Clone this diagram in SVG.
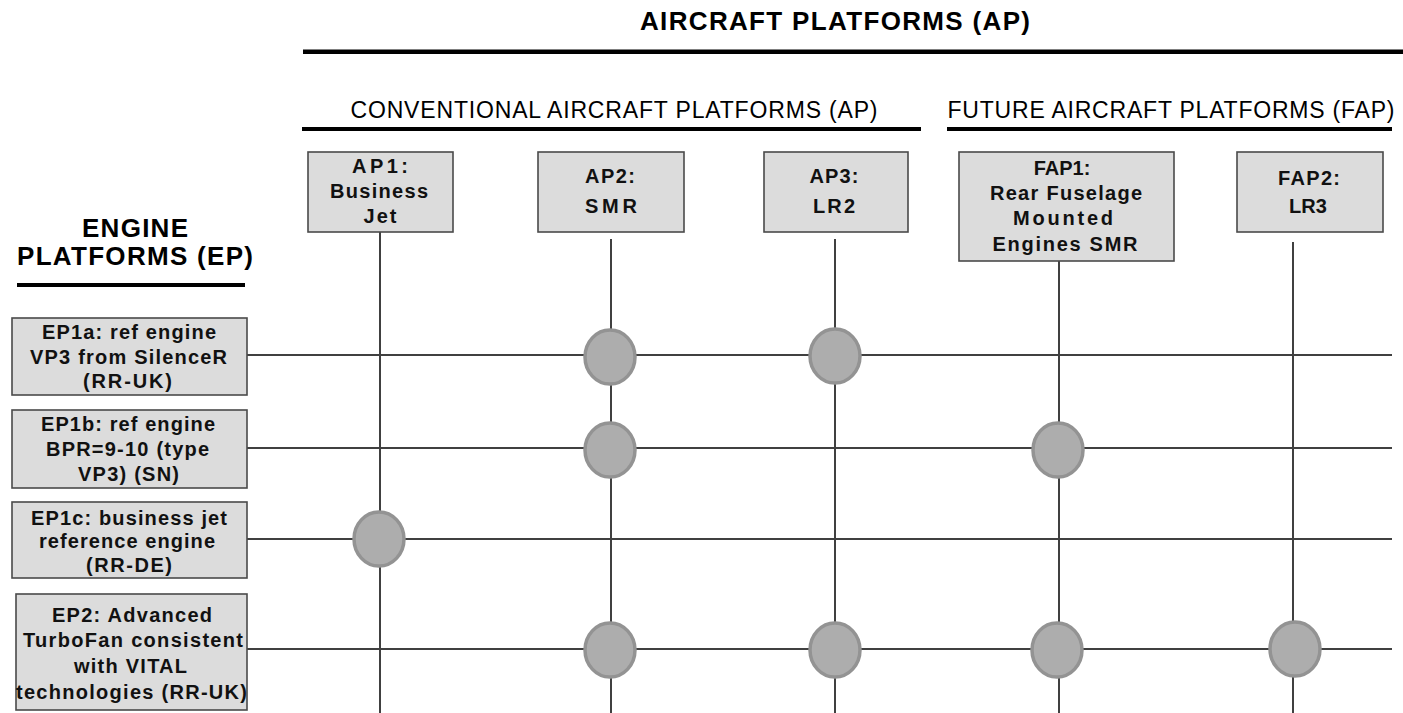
<svg xmlns="http://www.w3.org/2000/svg" width="1403" height="713" viewBox="0 0 1403 713">
<style>
.bg{fill:#ffffff}
.box{fill:#dcdcdc;stroke:#4a4a4a;stroke-width:1.6}
.bt{font-family:"Liberation Sans",Arial,sans-serif;font-weight:bold;font-size:20px;fill:#111;text-anchor:middle}
.et{font-family:"Liberation Sans",Arial,sans-serif;font-weight:bold;font-size:20px;fill:#111;text-anchor:middle}
.h1{font-family:"Liberation Sans",Arial,sans-serif;font-weight:bold;font-size:26px;fill:#000;text-anchor:middle}
.h2{font-family:"Liberation Sans",Arial,sans-serif;font-size:23px;fill:#000;text-anchor:middle}
.bar{fill:#000}
.ln{stroke:#404040;stroke-width:2;fill:none}
.dot{fill:#adadad;stroke:#939393;stroke-width:3.5}
</style>
<rect class="bg" x="0" y="0" width="1403" height="713"/>

<g id="headers">
  <text class="h1" x="835" y="30" textLength="390" lengthAdjust="spacing">AIRCRAFT PLATFORMS (AP)</text>
  <rect class="bar" x="303" y="49.5" width="1100" height="4.5"/>
  <text class="h2" x="614" y="118" textLength="527" lengthAdjust="spacing">CONVENTIONAL AIRCRAFT PLATFORMS (AP)</text>
  <rect class="bar" x="302" y="127" width="619" height="4"/>
  <text class="h2" x="1171" y="118" textLength="447" lengthAdjust="spacing">FUTURE AIRCRAFT PLATFORMS (FAP)</text>
  <rect class="bar" x="947" y="127" width="445" height="4"/>
  <text class="h1" x="135" y="237" font-size="27" textLength="106" lengthAdjust="spacing">ENGINE</text>
  <text class="h1" x="135" y="265" font-size="27" textLength="236" lengthAdjust="spacing">PLATFORMS (EP)</text>
  <rect class="bar" x="17" y="283" width="228" height="4"/>
</g>

<g id="connectors">
  <line class="ln" x1="380" y1="232" x2="380" y2="713"/>
  <line class="ln" x1="611" y1="239" x2="611" y2="713"/>
  <line class="ln" x1="835" y1="239" x2="835" y2="713"/>
  <line class="ln" x1="1059" y1="260" x2="1059" y2="713"/>
  <line class="ln" x1="1293" y1="242" x2="1293" y2="713"/>
  <line class="ln" x1="247" y1="355" x2="1392" y2="355"/>
  <line class="ln" x1="247" y1="448" x2="1392" y2="448"/>
  <line class="ln" x1="247" y1="539" x2="1392" y2="539"/>
  <line class="ln" x1="247" y1="649" x2="1392" y2="649"/>
</g>

<g id="AP1">
  <rect class="box" x="308" y="152" width="145" height="80"/>
  <text class="bt" x="380" y="173" textLength="56" lengthAdjust="spacing">AP1:</text>
  <text class="bt" x="379" y="198" textLength="98" lengthAdjust="spacing">Business</text>
  <text class="bt" x="380" y="223" textLength="33" lengthAdjust="spacing">Jet</text>
</g>
<g id="AP2">
  <rect class="box" x="538" y="152" width="146" height="80"/>
  <text class="bt" x="610" y="183" textLength="50" lengthAdjust="spacing">AP2:</text>
  <text class="bt" x="611" y="213" textLength="52" lengthAdjust="spacing">SMR</text>
</g>
<g id="AP3">
  <rect class="box" x="764" y="152" width="144" height="80"/>
  <text class="bt" x="834" y="183" textLength="49" lengthAdjust="spacing">AP3:</text>
  <text class="bt" x="834" y="213" textLength="42" lengthAdjust="spacing">LR2</text>
</g>
<g id="FAP1">
  <rect class="box" x="959" y="152" width="215" height="109"/>
  <text class="bt" x="1062" y="175">FAP1:</text>
  <text class="bt" x="1066" y="200" textLength="152" lengthAdjust="spacing">Rear Fuselage</text>
  <text class="bt" x="1063" y="225" textLength="100" lengthAdjust="spacing">Mounted</text>
  <text class="bt" x="1065" y="251" textLength="145" lengthAdjust="spacing">Engines SMR</text>
</g>
<g id="FAP2">
  <rect class="box" x="1237" y="152" width="146" height="80"/>
  <text class="bt" x="1309" y="185" textLength="62" lengthAdjust="spacing">FAP2:</text>
  <text class="bt" x="1308" y="213">LR3</text>
</g>

<g id="EP1a">
  <rect class="box" x="12" y="318" width="235" height="77"/>
  <text class="et" x="129" y="339" textLength="174" lengthAdjust="spacing">EP1a: ref engine</text>
  <text class="et" x="128.5" y="364" textLength="197" lengthAdjust="spacing">VP3 from SilenceR</text>
  <text class="et" x="127.5" y="388" textLength="89" lengthAdjust="spacing">(RR-UK)</text>
</g>
<g id="EP1b">
  <rect class="box" x="12" y="410" width="235" height="78"/>
  <text class="et" x="128" y="431" textLength="174" lengthAdjust="spacing">EP1b: ref engine</text>
  <text class="et" x="127.5" y="456" textLength="163" lengthAdjust="spacing">BPR=9-10 (type</text>
  <text class="et" x="128.5" y="481" textLength="101" lengthAdjust="spacing">VP3) (SN)</text>
</g>
<g id="EP1c">
  <rect class="box" x="12" y="502" width="235" height="76"/>
  <text class="et" x="129" y="525" textLength="196" lengthAdjust="spacing">EP1c: business jet</text>
  <text class="et" x="127" y="548" textLength="176" lengthAdjust="spacing">reference engine</text>
  <text class="et" x="129" y="572" textLength="86" lengthAdjust="spacing">(RR-DE)</text>
</g>
<g id="EP2">
  <rect class="box" x="16" y="594" width="231" height="116"/>
  <text class="et" x="132" y="622" textLength="160" lengthAdjust="spacing">EP2: Advanced</text>
  <text class="et" x="133" y="647" textLength="220" lengthAdjust="spacing">TurboFan consistent</text>
  <text class="et" x="130.5" y="673" textLength="113" lengthAdjust="spacing">with VITAL</text>
  <text class="et" x="131.5" y="699" textLength="231" lengthAdjust="spacing">technologies (RR-UK)</text>
</g>

<g id="links">
  <ellipse class="dot" cx="610" cy="357" rx="25" ry="27"/>
  <ellipse class="dot" cx="835" cy="356" rx="25" ry="27"/>
  <ellipse class="dot" cx="610" cy="450" rx="25" ry="27"/>
  <ellipse class="dot" cx="1058" cy="450" rx="25" ry="27"/>
  <ellipse class="dot" cx="379" cy="539" rx="25" ry="27"/>
  <ellipse class="dot" cx="610" cy="650" rx="25" ry="27"/>
  <ellipse class="dot" cx="835" cy="650" rx="25" ry="27"/>
  <ellipse class="dot" cx="1057" cy="650" rx="25" ry="27"/>
  <ellipse class="dot" cx="1295" cy="649" rx="25" ry="27"/>
</g>
</svg>
